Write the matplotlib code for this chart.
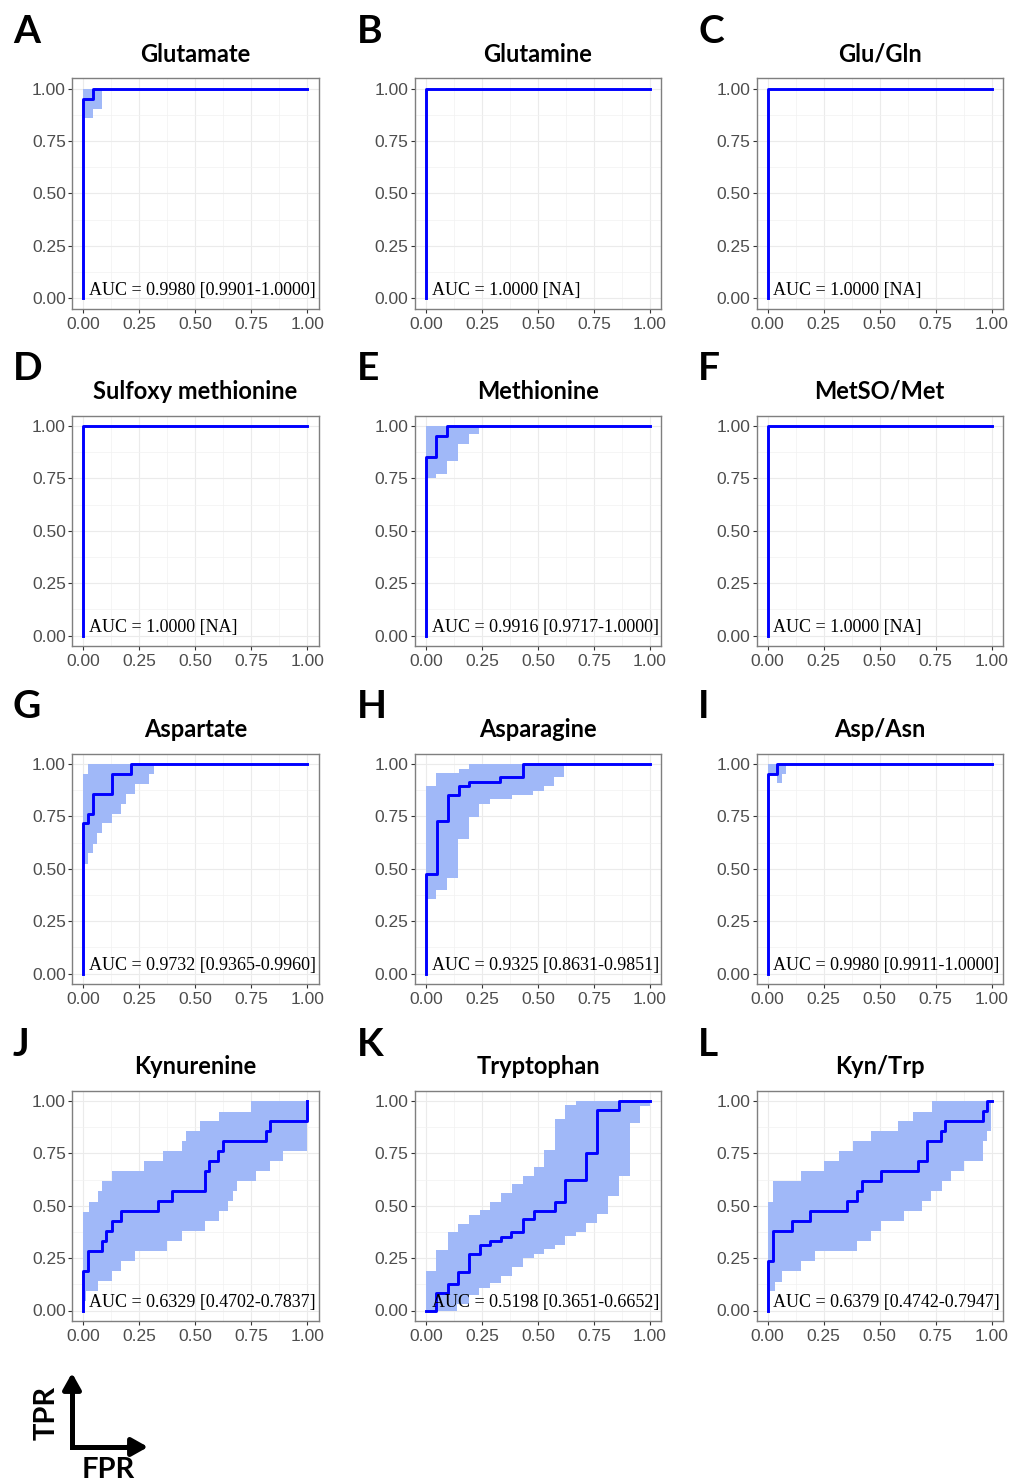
import matplotlib.pyplot as plt
from matplotlib.ticker import MultipleLocator, FormatStrFormatter

plt.rcParams["font.family"] = "Liberation Sans"

W, H = 1011, 1483

titles = ["Glutamate", "Glutamine", "Glu/Gln",
          "Sulfoxy methionine", "Methionine", "MetSO/Met",
          "Aspartate", "Asparagine", "Asp/Asn",
          "Kynurenine", "Tryptophan", "Kyn/Trp"]
letters = list("ABCDEFGHIJKL")
auc_labels = ["AUC = 0.9980 [0.9901-1.0000]", "AUC = 1.0000 [NA]", "AUC = 1.0000 [NA]",
              "AUC = 1.0000 [NA]", "AUC = 0.9916 [0.9717-1.0000]", "AUC = 1.0000 [NA]",
              "AUC = 0.9732 [0.9365-0.9960]", "AUC = 0.9325 [0.8631-0.9851]", "AUC = 0.9980 [0.9911-1.0000]",
              "AUC = 0.6329 [0.4702-0.7837]", "AUC = 0.5198 [0.3651-0.6652]", "AUC = 0.6379 [0.4742-0.7947]"]

# ROC curves (FPR, TPR), step points
perfect_fpr = [0, 0, 1.0]
perfect_tpr = [0, 1.0, 1.0]

glu_fpr = [0, 0, 0.042, 1.0]
glu_tpr = [0, 0.95, 1.0, 1.0]
glu_up_x, glu_up_y = [0, 0.082], [1.0, 1.0]
glu_lo_x, glu_lo_y = [0, 0.042, 0.082], [0.858, 0.905, 0.905]

met_fpr = [0, 0, 0.045, 0.095, 1.0]
met_tpr = [0, 0.852, 0.954, 1.0, 1.0]
met_up_x, met_up_y = [0, 0.237], [1.0, 1.0]
met_lo_x = [0, 0.045, 0.095, 0.144, 0.193, 0.237]
met_lo_y = [0.753, 0.772, 0.832, 0.914, 0.961, 0.961]

asp_fpr = [0, 0, 0.022, 0.042, 0.126, 0.211, 1.0]
asp_tpr = [0, 0.717, 0.761, 0.857, 0.952, 1.0, 1.0]
asp_up_x, asp_up_y = [0, 0.022, 0.315], [0.95, 1.0, 1.0]
asp_lo_x = [0, 0.022, 0.045, 0.062, 0.085, 0.126, 0.168, 0.189, 0.233, 0.293, 0.315]
asp_lo_y = [0.525, 0.573, 0.618, 0.669, 0.717, 0.761, 0.809, 0.857, 0.904, 0.952, 0.952]

asn_fpr = [0, 0, 0.049, 0.098, 0.146, 0.193, 0.331, 0.432, 1.0]
asn_tpr = [0, 0.476, 0.727, 0.852, 0.894, 0.916, 0.937, 1.0, 1.0]
asn_up_x = [0, 0.046, 0.146, 0.193, 0.618]
asn_up_y = [0.894, 0.956, 0.976, 1.0, 1.0]
asn_lo_x = [0, 0.046, 0.094, 0.143, 0.19, 0.238, 0.287, 0.383, 0.477, 0.525, 0.572, 0.618]
asn_lo_y = [0.354, 0.397, 0.457, 0.643, 0.749, 0.81, 0.833, 0.852, 0.873, 0.894, 0.937, 0.937]

aspasn_fpr = [0, 0, 0.04, 1.0]
aspasn_tpr = [0, 0.952, 1.0, 1.0]
aspasn_up_x, aspasn_up_y = [0, 0.083], [1.0, 1.0]
aspasn_lo_x, aspasn_lo_y = [0, 0.04, 0.062, 0.083], [0.952, 0.908, 0.952, 0.952]

kyn_fpr = [0, 0, 0.022, 0.084, 0.10, 0.126, 0.167, 0.335, 0.397, 0.544, 0.56, 0.603, 0.622, 0.815, 0.833, 1.0]
kyn_tpr = [0, 0.19, 0.286, 0.333, 0.381, 0.429, 0.476, 0.524, 0.571, 0.667, 0.714, 0.762, 0.81, 0.857, 0.905, 1.0]
kyn_up_x = [0, 0.025, 0.064, 0.084, 0.126, 0.271, 0.356, 0.44, 0.459, 0.523, 0.607, 0.748, 1.0]
kyn_up_y = [0.47, 0.518, 0.569, 0.617, 0.665, 0.713, 0.761, 0.809, 0.856, 0.904, 0.949, 1.0, 1.0]
kyn_lo_x = [0, 0.012, 0.064, 0.126, 0.167, 0.23, 0.375, 0.44, 0.544, 0.607, 0.644, 0.667, 0.686, 0.77, 0.833, 0.893, 1.0]
kyn_lo_y = [0.045, 0.093, 0.139, 0.187, 0.234, 0.282, 0.33, 0.378, 0.426, 0.474, 0.522, 0.569, 0.617, 0.665, 0.713, 0.761, 0.761]

trp_fpr = [0, 0.045, 0.096, 0.145, 0.193, 0.239, 0.287, 0.334, 0.381, 0.433, 0.481, 0.575, 0.622, 0.716, 0.764, 0.861, 1.0]
trp_tpr = [0, 0.083, 0.126, 0.186, 0.270, 0.313, 0.332, 0.353, 0.374, 0.436, 0.477, 0.518, 0.623, 0.750, 0.957, 1.0, 1.0]
trp_up_x = [0, 0.045, 0.096, 0.145, 0.193, 0.242, 0.287, 0.334, 0.384, 0.433, 0.481, 0.528, 0.575, 0.622, 0.67, 1.0]
trp_up_y = [0.19, 0.29, 0.376, 0.413, 0.456, 0.48, 0.517, 0.56, 0.603, 0.644, 0.687, 0.766, 0.914, 0.981, 1.0, 1.0]
trp_lo_x = [0, 0.14, 0.19, 0.237, 0.287, 0.336, 0.384, 0.433, 0.481, 0.528, 0.575, 0.622, 0.67, 0.716, 0.764, 0.812, 0.861, 0.909, 0.954, 1.0]
trp_lo_y = [0, 0.03, 0.075, 0.108, 0.132, 0.167, 0.209, 0.25, 0.272, 0.295, 0.315, 0.355, 0.376, 0.419, 0.463, 0.546, 0.644, 0.893, 0.976, 0.976]

kt_fpr = [0, 0, 0.025, 0.107, 0.189, 0.356, 0.397, 0.42, 0.504, 0.67, 0.71, 0.774, 0.792, 0.963, 0.981, 1.0]
kt_tpr = [0, 0.238, 0.381, 0.429, 0.476, 0.524, 0.571, 0.619, 0.667, 0.714, 0.81, 0.857, 0.905, 0.952, 1.0, 1.0]
kt_up_x = [0, 0.022, 0.149, 0.253, 0.318, 0.379, 0.46, 0.583, 0.647, 0.732, 0.995]
kt_up_y = [0.52, 0.62, 0.665, 0.713, 0.761, 0.809, 0.856, 0.904, 0.949, 1.0, 1.0]
kt_lo_x = [0, 0.010, 0.033, 0.0625, 0.149, 0.211, 0.397, 0.461, 0.504, 0.61, 0.6875, 0.729, 0.777, 0.817, 0.876, 0.96, 0.98, 0.995]
kt_lo_y = [0.045, 0.093, 0.136, 0.187, 0.234, 0.282, 0.33, 0.378, 0.426, 0.474, 0.522, 0.569, 0.617, 0.665, 0.713, 0.809, 0.856, 0.856]

curves = [(glu_fpr, glu_tpr), (perfect_fpr, perfect_tpr), (perfect_fpr, perfect_tpr),
          (perfect_fpr, perfect_tpr), (met_fpr, met_tpr), (perfect_fpr, perfect_tpr),
          (asp_fpr, asp_tpr), (asn_fpr, asn_tpr), (aspasn_fpr, aspasn_tpr),
          (kyn_fpr, kyn_tpr), (trp_fpr, trp_tpr), (kt_fpr, kt_tpr)]
bands = [(glu_up_x, glu_up_y, glu_lo_x, glu_lo_y), None, None,
         None, (met_up_x, met_up_y, met_lo_x, met_lo_y), None,
         (asp_up_x, asp_up_y, asp_lo_x, asp_lo_y), (asn_up_x, asn_up_y, asn_lo_x, asn_lo_y),
         (aspasn_up_x, aspasn_up_y, aspasn_lo_x, aspasn_lo_y),
         (kyn_up_x, kyn_up_y, kyn_lo_x, kyn_lo_y), (trp_up_x, trp_up_y, trp_lo_x, trp_lo_y),
         (kt_up_x, kt_up_y, kt_lo_x, kt_lo_y)]


def step_path(xs, ys):
    px, py = [xs[0]], [ys[0]]
    for i in range(1, len(xs)):
        px += [xs[i], xs[i]]
        py += [ys[i - 1], ys[i]]
    return px, py


fig = plt.figure(figsize=(W / 100, H / 100), dpi=100)

# pixel position of data (0, 1) corner of each panel
col_x0 = [83.3, 426.0, 767.7]
row_y1 = [88.7, 426.0, 764.0, 1101.0]
dw, dh = 224.0, 209.5

for i in range(12):
    r, c = divmod(i, 3)
    left = col_x0[c] - 0.05 * dw
    top = row_y1[r] - 0.05 * dh
    ax = fig.add_axes([left / W, 1 - (top + 1.1 * dh) / H, 1.1 * dw / W, 1.1 * dh / H])
    ax.set_xlim(-0.05, 1.05)
    ax.set_ylim(-0.05, 1.05)
    for a in (ax.xaxis, ax.yaxis):
        a.set_major_locator(MultipleLocator(0.25))
        a.set_minor_locator(MultipleLocator(0.125))
        a.set_major_formatter(FormatStrFormatter("%.2f"))
    ax.grid(which="major", color="#EBEBEB", lw=0.8)
    ax.grid(which="minor", color="#F2F2F2", lw=0.5)
    ax.set_axisbelow(True)
    ax.tick_params(which="minor", length=0)
    ax.tick_params(which="major", length=3, width=0.8, color="#333333",
                   labelcolor="#4D4D4D", labelsize=12.5)
    ax.tick_params(axis="x", pad=3)
    ax.tick_params(axis="y", pad=1.5)
    for s in ax.spines.values():
        s.set_color("#7F7F7F")
        s.set_linewidth(1.0)

    if bands[i] is not None:
        ux, uy, lx, ly = bands[i]
        px_u, py_u = step_path(ux, uy)
        px_l, py_l = step_path(lx, ly)
        ax.fill(px_u + px_l[::-1], py_u + py_l[::-1], color="#A0B8F8", lw=0, zorder=2)

    fpr, tpr = curves[i]
    ax.step(fpr, tpr, where="post", color="#0000FF", lw=2.1, zorder=3)
    ax.text(0.025, 0.015, auc_labels[i], family="Liberation Serif", fontsize=13,
            ha="left", va="baseline", zorder=4)
    ax.set_title(titles[i], family="Lato", fontweight="bold", fontsize=17, pad=12)

# overlay in pixel coordinates for panel letters and axis key
ov = fig.add_axes([0, 0, 1, 1], zorder=-1)
ov.set_xlim(0, W)
ov.set_ylim(H, 0)
ov.axis("off")

letter_x = [13, 357, 698]
letter_y = [43, 380.5, 718, 1055.5]
for i, let in enumerate(letters):
    r, c = divmod(i, 3)
    ov.text(letter_x[c], letter_y[r], let, family="Lato", fontweight="bold",
            fontsize=28, ha="left", va="baseline")

ov.plot([72, 72, 136], [1384, 1447, 1447], color="black", lw=3.6,
        solid_joinstyle="miter", solid_capstyle="butt")
arrow = dict(arrowstyle="-|>,head_length=0.8,head_width=0.45", color="black",
             lw=3.6, mutation_scale=12, shrinkA=0, shrinkB=0)
ov.annotate("", xy=(72, 1373), xytext=(72, 1392), arrowprops=arrow)
ov.annotate("", xy=(148, 1447), xytext=(128, 1447), arrowprops=arrow)
ov.text(47, 1413, "TPR", family="Lato", fontweight="bold", fontsize=21,
        rotation=90, ha="center", va="center")
ov.text(108, 1470, "FPR", family="Lato", fontweight="bold", fontsize=21,
        ha="center", va="center")

fig.savefig("out.png", dpi=100)
